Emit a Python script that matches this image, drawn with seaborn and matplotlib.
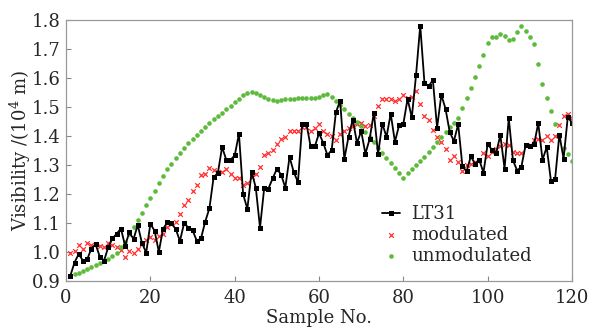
import numpy as np
import pandas as pd
import matplotlib
matplotlib.use("Agg")
import matplotlib.pyplot as plt
import seaborn as sns

# sample numbers 1..120
sample_no = np.arange(1, 121)

lt31 = [0.918, 0.964, 0.994, 0.970, 0.975, 1.012, 1.027, 0.984, 0.970, 1.017,
        1.047, 1.063, 1.081, 1.022, 1.068, 1.045, 1.093, 1.031, 0.998, 1.098,
        1.073, 1.001, 1.080, 1.102, 1.099, 1.080, 1.038, 1.100, 1.084, 1.075,
        1.039, 1.047, 1.105, 1.151, 1.259, 1.272, 1.362, 1.318, 1.318, 1.333,
        1.408, 1.199, 1.149, 1.277, 1.222, 1.084, 1.222, 1.219, 1.254, 1.287,
        1.267, 1.222, 1.328, 1.276, 1.241, 1.441, 1.443, 1.364, 1.364, 1.410,
        1.376, 1.334, 1.352, 1.482, 1.522, 1.321, 1.398, 1.457, 1.376, 1.417,
        1.339, 1.390, 1.480, 1.338, 1.443, 1.397, 1.477, 1.380, 1.438, 1.443,
        1.528, 1.464, 1.609, 1.781, 1.584, 1.572, 1.593, 1.429, 1.542, 1.494,
        1.413, 1.383, 1.441, 1.297, 1.278, 1.330, 1.304, 1.318, 1.274, 1.373,
        1.352, 1.341, 1.403, 1.288, 1.461, 1.316, 1.281, 1.295, 1.369, 1.366,
        1.371, 1.445, 1.318, 1.362, 1.246, 1.253, 1.405, 1.322, 1.466, 1.445]

modulated = [0.996, 1.005, 1.024, 1.010, 1.033, 1.024, 1.028, 1.022, 1.017, 1.033,
             1.026, 1.019, 1.008, 0.982, 1.005, 0.996, 1.012, 1.028, 1.042, 1.052,
             1.042, 1.054, 1.063, 1.086, 1.097, 1.102, 1.130, 1.163, 1.181, 1.211,
             1.231, 1.266, 1.269, 1.289, 1.282, 1.276, 1.277, 1.285, 1.270, 1.255,
             1.257, 1.232, 1.238, 1.258, 1.268, 1.295, 1.334, 1.343, 1.351, 1.371,
             1.390, 1.398, 1.417, 1.416, 1.417, 1.431, 1.431, 1.416, 1.429, 1.441,
             1.417, 1.406, 1.401, 1.387, 1.408, 1.416, 1.429, 1.436, 1.443, 1.445,
             1.436, 1.437, 1.470, 1.503, 1.528, 1.528, 1.526, 1.520, 1.526, 1.542,
             1.531, 1.535, 1.556, 1.510, 1.470, 1.457, 1.422, 1.397, 1.380, 1.355,
             1.318, 1.330, 1.309, 1.278, 1.299, 1.302, 1.309, 1.318, 1.343, 1.332,
             1.346, 1.357, 1.366, 1.371, 1.369, 1.346, 1.341, 1.343, 1.369, 1.368,
             1.385, 1.390, 1.385, 1.401, 1.385, 1.399, 1.438, 1.470, 1.477, 1.461]

unmodulated = [0.918, 0.924, 0.929, 0.936, 0.941, 0.948, 0.954, 0.961, 0.968, 0.977,
               0.986, 0.998, 1.016, 1.036, 1.064, 1.087, 1.109, 1.136, 1.163, 1.187,
               1.212, 1.237, 1.262, 1.285, 1.304, 1.323, 1.341, 1.359, 1.376, 1.390,
               1.403, 1.417, 1.431, 1.444, 1.458, 1.469, 1.481, 1.493, 1.505, 1.517,
               1.528, 1.542, 1.549, 1.551, 1.547, 1.541, 1.534, 1.528, 1.524, 1.522,
               1.524, 1.526, 1.527, 1.529, 1.530, 1.530, 1.530, 1.530, 1.530, 1.535,
               1.540, 1.545, 1.533, 1.522, 1.508, 1.494, 1.477, 1.461, 1.449, 1.434,
               1.415, 1.395, 1.380, 1.360, 1.342, 1.323, 1.306, 1.290, 1.272, 1.254,
               1.271, 1.286, 1.301, 1.315, 1.329, 1.345, 1.361, 1.379, 1.396, 1.415,
               1.430, 1.446, 1.463, 1.495, 1.531, 1.567, 1.605, 1.642, 1.680, 1.720,
               1.743, 1.743, 1.752, 1.744, 1.731, 1.735, 1.757, 1.781, 1.762, 1.740,
               1.717, 1.648, 1.579, 1.531, 1.486, 1.441, 1.398, 1.360, 1.337, 1.314]

x_ticks = [0, 20, 40, 60, 80, 100, 120]
y_ticks = [0.9, 1.0, 1.1, 1.2, 1.3, 1.4, 1.5, 1.6, 1.7, 1.8]

df = pd.DataFrame({"sample": sample_no, "LT31": lt31,
                   "modulated": modulated, "unmodulated": unmodulated})

sns.set_style("ticks")
plt.rcParams["font.family"] = ["DejaVu Serif"]
plt.rcParams["mathtext.fontset"] = "dejavuserif"

fig, ax = plt.subplots(figsize=(5.9, 3.28), dpi=100)
fig.subplots_adjust(left=0.112, right=0.9695, top=0.939, bottom=0.143)

sns.lineplot(data=df, x="sample", y="LT31", ax=ax, color="black", lw=1.3,
             marker="s", markersize=3.6, markeredgewidth=0, label="LT31")
sns.scatterplot(data=df, x="sample", y="modulated", ax=ax, color="#ff3030",
                marker="x", s=11, linewidth=0.9, label="modulated")
sns.scatterplot(data=df, x="sample", y="unmodulated", ax=ax, color="#5dbb3c",
                marker="o", s=11, linewidth=0, label="unmodulated")

ax.set_xlim(0, 120)
ax.set_ylim(0.9, 1.8)
ax.set_xticks(x_ticks)
ax.set_yticks(y_ticks)
ax.set_yticklabels([f"{v:.1f}" for v in y_ticks])
ax.tick_params(direction="in", length=3.5, width=0.8, color="#888888",
               labelsize=13)
ax.tick_params(axis="x", pad=6)
ax.tick_params(axis="y", pad=4)
for sp in ax.spines.values():
    sp.set_color("#999999")
    sp.set_linewidth(0.9)

ax.set_xlabel("Sample No.", fontsize=13, labelpad=1)
ax.set_ylabel("Visibility /(10$^4$ m)", fontsize=13, labelpad=-1)

ax.legend(loc="upper left", bbox_to_anchor=(0.625, 0.29), frameon=False,
          fontsize=13, handlelength=1.0, handletextpad=0.6, labelspacing=0.15,
          borderpad=0, borderaxespad=0, markerscale=1.0)

fig.savefig("out.png", dpi=100)
